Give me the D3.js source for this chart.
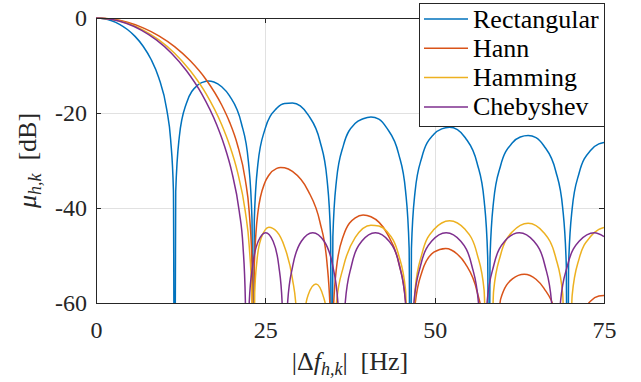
<!DOCTYPE html>
<meta charset="utf-8">
<style>
  body { margin: 0; background: #fff; }
  .axis path, .axis line { fill: none; stroke: #262626; shape-rendering: crispEdges; }
  .grid line { stroke: #e1e1e1; shape-rendering: crispEdges; }
  .curve { fill: none; stroke-width: 1.5; stroke-linejoin: round; }
</style>
<body>
<script src="https://d3js.org/d3.v7.min.js"></script>
<script>

// axis ticks
var freqTicks = [0, 25, 50, 75];
var dbTicks = [-60, -40, -20, 0];
var dbTickLabels = ["-60", "-40", "-20", "0"];

// legend
var seriesNames = ["Rectangular", "Hann", "Hamming", "Chebyshev"];
var seriesColors = ["#0072BD", "#D95319", "#EDB120", "#7E2F8E"];

// [frequency offset in Hz, level in dB]; -100 marks a null far below the axis
var rectangular = [
  [0, 0], [1.16, -0.14], [2.32, -0.58], [3.48, -1.33], [4.64, -2.42], [5.8, -3.92], [6.96, -5.94],
  [8.12, -8.69], [9.28, -12.62], [10.44, -19.23], [11.02, -25.61], [11.43, -36.35], [11.6, -100],
  [11.77, -36.6], [12.3, -25.0], [13.34, -18.0], [15.08, -14.06], [16.24, -13.31], [16.59, -13.26],
  [17.4, -13.46], [18.56, -14.47], [19.72, -16.39], [21.46, -22.15], [22.5, -30.24], [23.03, -42.44], [23.2, -100],
  [23.37, -42.57], [23.9, -30.76], [24.94, -23.45], [26.68, -19.02], [27.84, -17.99], [29.0, -17.9], [30.16, -18.5], [31.32, -20.41],
  [33.06, -25.9], [34.1, -33.85], [34.63, -45.98], [34.8, -100],
  [34.97, -46.07], [35.5, -34.2], [36.54, -26.77], [38.28, -22.15], [39.44, -21.2], [40.6, -20.82], [41.76, -21.3], [42.92, -23.15],
  [44.66, -28.51], [45.7, -36.39], [46.23, -48.49], [46.4, -100],
  [46.57, -48.56], [47.1, -36.65], [48.14, -29.16], [49.88, -24.45], [51.04, -23.35], [52.2, -23.01], [53.36, -23.5], [54.52, -25.22],
  [56.26, -30.52], [57.3, -38.36], [57.83, -50.44], [58.0, -100],
  [58.17, -50.49], [58.7, -38.57], [59.74, -31.04], [61.48, -26.27], [62.64, -25.06], [63.8, -24.75], [64.96, -25.2], [66.12, -26.9],
  [67.86, -32.15], [68.9, -39.96], [69.43, -52.02], [69.6, -100],
  [69.77, -52.07], [70.3, -40.13], [71.34, -32.58], [73.08, -27.77], [74.24, -26.51], [75, -26.21]
];

var hann = [
  [0, 0], [2.32, -0.22], [4.64, -0.91], [6.96, -2.07], [9.28, -3.75], [11.6, -6.02], [13.92, -9.01],
  [16.24, -12.94], [18.56, -18.32], [19.72, -21.92], [20.88, -26.67], [22.04, -34.05], [22.62, -40.81],
  [23.03, -51.8], [23.2, -100],
  [23.37, -52.3], [23.9, -40.98], [24.94, -34.63], [25.52, -33.1], [26.68, -31.67], [27.26, -31.47],
  [27.84, -31.54], [29.0, -32.31], [31.32, -36.38], [33.06, -42.95], [34.1, -51.5], [34.63, -63.95], [34.8, -100],
  [34.97, -64.2], [35.5, -52.65], [36.54, -45.78], [38.28, -42.06], [39.44, -41.49], [40.6, -41.85],
  [42.92, -45.22], [44.66, -51.32], [45.7, -59.63], [46.4, -100],
  [47.1, -60.45], [48.14, -53.37], [49.88, -49.31], [51.62, -48.51], [53.36, -49.73], [54.52, -51.71],
  [56.26, -57.57], [57.3, -65.7], [58.0, -100],
  [59.74, -59.18], [61.48, -54.92], [63.22, -53.94], [64.96, -54.99], [66.12, -56.86], [67.86, -62.58], [69.6, -100],
  [71.34, -63.9], [73.08, -59.52], [74.24, -58.54], [75, -58.42]
];

var hamming = [
  [0, 0], [2.32, -0.28], [4.64, -1.11], [6.96, -2.54], [9.28, -4.61], [11.6, -7.41], [13.92, -11.1],
  [16.24, -15.92], [18.56, -22.47], [19.72, -26.78], [20.88, -32.35], [22.04, -40.7], [22.62, -48.01],
  [23.03, -59.4], [23.2, -100],
  [23.43, -57.9], [23.78, -50.87], [24.36, -46.44], [25.52, -44.05], [26.68, -44.97], [27.84, -48.21],
  [29.0, -54.9], [29.58, -61.7], [30.14, -100],
  [30.74, -62.9], [31.32, -58.3], [32.48, -56.0], [33.64, -58.97], [34.22, -64.0], [34.8, -100],
  [35.5, -60.0], [36.54, -52.3], [38.28, -46.2], [40.6, -43.63], [41.76, -43.79], [42.92, -44.9],
  [44.66, -49.8], [45.7, -57.3], [46.4, -100],
  [47.1, -57.3], [48.14, -49.55], [49.88, -44.55], [52.2, -42.7], [54.52, -44.55], [56.26, -49.66],
  [57.3, -57.35], [58.0, -100],
  [58.7, -57.5], [59.74, -49.84], [61.48, -45.0], [63.8, -43.2], [66.12, -45.2], [67.86, -50.38],
  [68.9, -58.1], [69.6, -100],
  [70.3, -58.4], [71.34, -50.6], [73.08, -45.9], [74.24, -44.5], [75, -44.1]
];

var chebyshev = [
  [0, 0], [2.23, -0.28], [4.45, -1.11], [6.68, -2.54], [8.91, -4.61], [11.14, -7.41], [13.36, -11.1],
  [15.59, -15.92], [17.82, -22.47], [18.93, -26.78], [20.04, -32.35], [21.15, -40.7], [21.7, -48.0],
  [22.05, -59.4], [22.3, -100],
  [22.63, -59.7], [23.13, -52.1], [23.95, -47.0], [25.05, -45.2], [26.15, -47.0], [26.98, -52.1], [27.47, -59.7], [27.8, -100],
  [28.3, -59.7], [29.06, -52.1], [30.32, -47.0], [32.0, -45.2], [33.68, -47.0], [34.94, -52.1], [35.7, -59.7], [36.2, -100],
  [36.81, -59.7], [37.72, -52.1], [39.23, -47.0], [41.25, -45.2], [43.27, -47.0], [44.79, -52.1], [45.69, -59.7], [46.3, -100],
  [46.95, -59.7], [47.92, -52.1], [49.54, -47.0], [51.7, -45.2], [53.86, -47.0], [55.48, -52.1], [56.45, -59.7], [57.1, -100],
  [57.75, -59.7], [58.72, -52.1], [60.34, -47.0], [62.5, -45.2], [64.66, -47.0], [66.28, -52.1], [67.25, -59.7], [67.9, -100],
  [68.58, -59.7], [69.61, -52.1], [71.32, -47.0], [73.6, -45.2], [75, -46.0]
];

var series = [rectangular, hann, hamming, chebyshev];

var width = 641, height = 382;
var margin = {top: 18, right: 37, bottom: 79, left: 96};
var plotW = width - margin.left - margin.right,
    plotH = height - margin.top - margin.bottom;
var serif = "'Liberation Serif', 'DejaVu Serif', serif";

var svg = d3.select("body").append("svg")
    .attr("width", width)
    .attr("height", height);

var x = d3.scaleLinear().domain([0, 75]).range([margin.left, margin.left + plotW]);
var y = d3.scaleLinear().domain([-60, 0]).range([margin.top + plotH, margin.top]);

// grid
var grid = svg.append("g").attr("class", "grid");
grid.selectAll(".gx").data(freqTicks.slice(1, -1)).enter().append("line")
    .attr("x1", function(d) { return Math.round(x(d)) + 0.5; })
    .attr("x2", function(d) { return Math.round(x(d)) + 0.5; })
    .attr("y1", y(-60)).attr("y2", y(0));
grid.selectAll(".gy").data(dbTicks.slice(1, -1)).enter().append("line")
    .attr("y1", function(d) { return Math.round(y(d)) + 0.5; })
    .attr("y2", function(d) { return Math.round(y(d)) + 0.5; })
    .attr("x1", x(0)).attr("x2", x(75));

svg.append("clipPath").attr("id", "plot-clip")
  .append("rect")
    .attr("x", margin.left).attr("y", margin.top - 1)
    .attr("width", plotW).attr("height", plotH + 1);

var line = d3.line()
    .x(function(d) { return x(d[0]); })
    .y(function(d) { return y(d[1]); })
    .curve(d3.curveMonotoneX);

svg.append("g").attr("clip-path", "url(#plot-clip)")
  .selectAll("path").data(series).enter().append("path")
    .attr("class", "curve")
    .attr("stroke", function(d, i) { return seriesColors[i]; })
    .attr("d", line);

// axes
var fontSize = 24;

svg.append("g").attr("class", "axis")
    .attr("transform", "translate(0," + (margin.top + plotH) + ")")
    .call(d3.axisBottom(x).tickValues(freqTicks).tickSizeInner(-5).tickSizeOuter(0).tickPadding(18))
    .call(function(g) { g.selectAll("text").style("font-size", fontSize + "px").style("font-family", serif).attr("fill", "#262626"); });

svg.append("g").attr("class", "axis")
    .attr("transform", "translate(" + margin.left + ",0)")
    .call(d3.axisLeft(y).tickValues(dbTicks).tickSizeInner(-5).tickSizeOuter(0).tickPadding(9)
      .tickFormat(function(d, i) { return dbTickLabels[i]; }))
    .call(function(g) { g.selectAll("text").style("font-size", fontSize + "px").style("font-family", serif).attr("fill", "#262626"); });

svg.append("g").attr("class", "axis")
    .attr("transform", "translate(0," + margin.top + ")")
    .call(d3.axisTop(x).tickValues(freqTicks).tickSizeInner(-5).tickSizeOuter(0).tickFormat(""));

svg.append("g").attr("class", "axis")
    .attr("transform", "translate(" + (margin.left + plotW) + ",0)")
    .call(d3.axisRight(y).tickValues(dbTicks).tickSizeInner(-5).tickSizeOuter(0).tickFormat(""));

// axis labels
var xl = svg.append("text")
    .attr("x", margin.left + plotW / 2)
    .attr("y", 370)
    .attr("text-anchor", "middle")
    .attr("fill", "#262626")
    .style("font-family", serif)
    .style("font-size", "26px");
xl.append("tspan").text("|\u0394");
xl.append("tspan").style("font-style", "italic").text("f");
xl.append("tspan").style("font-style", "italic").style("font-size", "18px").attr("dy", 5).text("h,k");
xl.append("tspan").attr("dy", -5).text("|\u00a0\u00a0[Hz]");

var yl = svg.append("text")
    .attr("transform", "translate(36," + (margin.top + plotH / 2) + ") rotate(-90)")
    .attr("text-anchor", "middle")
    .attr("fill", "#262626")
    .style("font-family", serif)
    .style("font-size", "26px");
yl.append("tspan").style("font-style", "italic").text("\u03bc");
yl.append("tspan").style("font-style", "italic").style("font-size", "18px").attr("dy", 5).text("h,k");
yl.append("tspan").attr("dy", -5).text("\u00a0\u00a0[dB]");

// legend
var legend = svg.append("g");
legend.append("rect")
    .attr("x", 419.5).attr("y", 3.5)
    .attr("width", 185).attr("height", 123)
    .attr("fill", "#fff").attr("stroke", "#262626");

var item = legend.selectAll(".item").data(seriesNames).enter().append("g")
    .attr("transform", function(d, i) { return "translate(424," + (19 + i * 29.3) + ")"; });
item.append("line")
    .attr("x1", 0).attr("x2", 44)
    .attr("stroke", function(d, i) { return seriesColors[i]; })
    .attr("stroke-width", 1.5);
item.append("text")
    .attr("x", 49).attr("dy", "0.33em")
    .attr("fill", "#000")
    .style("font-family", serif)
    .style("font-size", "26px")
    .text(function(d) { return d; });

</script>
</body>
